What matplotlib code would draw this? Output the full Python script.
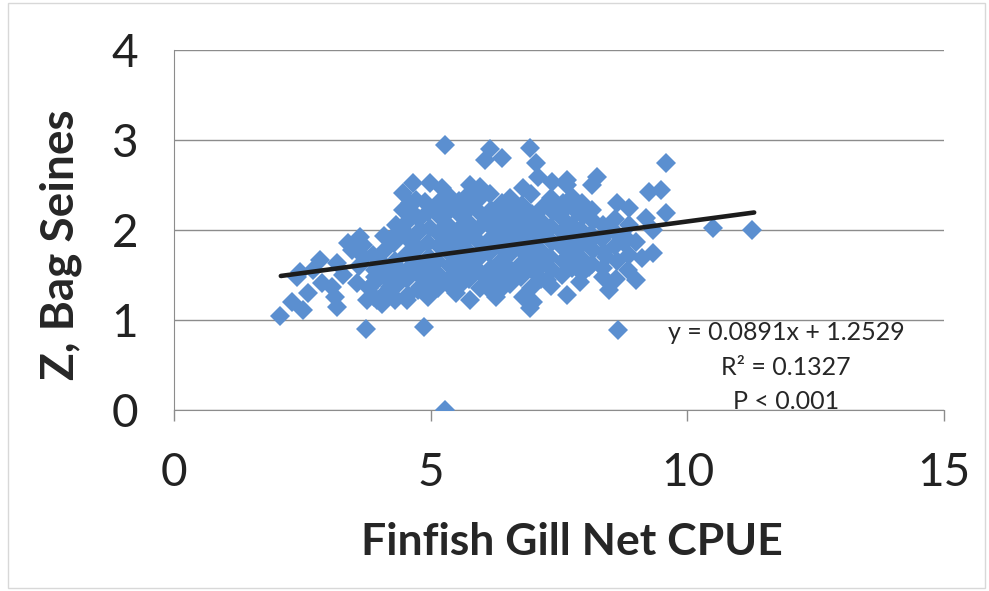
import numpy as np
import matplotlib.pyplot as plt

plt.rcParams['font.family'] = ['Lato', 'DejaVu Sans']

# outer / visible points (x = gill net CPUE, y = Z bag seines)
edge_x = [2.06, 2.30, 2.51, 2.61, 2.45, 2.39, 2.84, 2.88, 3.13, 3.17, 3.07, 3.17,
          3.39, 3.62, 3.68, 3.46, 3.73, 3.56, 3.75, 3.91, 4.00, 4.20, 3.95, 4.26,
          4.46, 4.65, 4.98, 4.72, 4.46, 4.46, 4.53, 4.86, 4.79, 4.40, 4.92, 4.79,
          4.65, 5.27, 6.15, 6.05, 6.38, 6.93, 7.06, 7.08, 5.21, 5.76, 5.95, 6.79,
          7.37, 7.65, 7.65, 4.88, 5.27, 5.50, 5.76, 6.28, 6.34, 6.93, 6.79, 7.65,
          5.31, 6.09, 7.26, 9.59, 9.26, 9.49, 9.59, 9.20, 10.50, 11.26, 8.23, 8.15,
          8.62, 8.87, 8.77, 9.00, 9.32, 9.12, 9.00, 8.64, 8.48, 8.35, 7.90, 8.09,
          8.42, 8.48, 7.76, 7.84, 7.65, 8.13, 7.90, 9.32, 7.00, 2.70, 3.30,
          3.60, 3.80, 4.05, 4.25, 3.70, 4.60]
edge_y = [1.04, 1.20, 1.11, 1.30, 1.53, 1.48, 1.67, 1.41, 1.26, 1.14, 1.37, 1.63,
          1.86, 1.92, 1.83, 1.78, 0.90, 1.41, 1.22, 1.48, 1.67, 1.37, 1.22, 1.92,
          2.41, 2.52, 2.52, 2.33, 2.22, 2.00, 1.22, 0.92, 1.37, 1.56, 1.63, 2.00,
          2.19, 2.94, 2.90, 2.78, 2.80, 2.91, 2.74, 2.59, 2.47, 2.50, 2.48, 2.47,
          2.53, 2.50, 2.26, 2.31, 0.00, 1.30, 1.22, 1.26, 1.33, 1.13, 1.26, 1.28,
          1.41, 1.37, 1.44, 2.74, 2.42, 2.44, 2.19, 2.13, 2.02, 2.00, 2.59, 2.50,
          2.30, 2.24, 1.86, 1.87, 1.74, 1.69, 1.44, 0.89, 1.33, 1.48, 1.42, 1.59,
          1.70, 2.00, 2.37, 2.20, 2.56, 1.89, 1.70, 2.00, 1.20, 1.55, 1.50,
          1.60, 1.35, 1.18, 1.28, 1.70, 2.30]

# dense core of the cloud
core_x = [3.90, 3.88, 3.92, 3.87,
          4.10, 4.12, 4.08, 4.11, 4.09,
          4.30, 4.32, 4.28, 4.31, 4.29, 4.33,
          4.55, 4.53, 4.57, 4.54, 4.56, 4.52,
          4.75, 4.77, 4.73, 4.76, 4.74, 4.78,
          4.95, 4.97, 4.93, 4.96, 4.94, 4.98, 4.95,
          5.15, 5.17, 5.13, 5.16, 5.14, 5.18, 5.15,
          5.35, 5.37, 5.33, 5.36, 5.34, 5.38, 5.35,
          5.55, 5.57, 5.53, 5.56, 5.54, 5.58, 5.55,
          5.75, 5.77, 5.73, 5.76, 5.74, 5.78, 5.75,
          5.95, 5.97, 5.93, 5.96, 5.94, 5.98, 5.95,
          6.15, 6.17, 6.13, 6.16, 6.14, 6.18, 6.15,
          6.35, 6.37, 6.33, 6.36, 6.34, 6.38,
          6.55, 6.57, 6.53, 6.56, 6.54, 6.58, 6.55,
          6.75, 6.77, 6.73, 6.76, 6.74, 6.78,
          6.95, 6.97, 6.93, 6.96, 6.94, 6.98, 6.95,
          7.15, 7.17, 7.13, 7.16, 7.14, 7.18,
          7.35, 7.37, 7.33, 7.36, 7.34, 7.38, 7.35,
          7.55, 7.57, 7.53, 7.56, 7.54, 7.58,
          7.75, 7.77, 7.73, 7.76,
          7.95, 7.97, 7.93, 7.96, 7.94,
          8.15, 8.17, 8.13, 8.16, 8.14,
          8.35, 8.37, 8.33, 8.36,
          8.60, 8.62, 8.58, 8.61, 8.59,
          8.85, 8.87, 8.83, 8.86]
core_y = [1.25, 1.40, 1.55, 1.72,
          1.30, 1.47, 1.60, 1.78, 1.93,
          1.22, 1.38, 1.52, 1.66, 1.85, 2.05,
          1.28, 1.45, 1.58, 1.73, 1.90, 2.08,
          1.33, 1.50, 1.64, 1.80, 1.95, 2.12,
          1.25, 1.42, 1.57, 1.70, 1.86, 2.02, 2.20,
          1.35, 1.50, 1.66, 1.82, 1.97, 2.14, 2.30,
          1.45, 1.60, 1.75, 1.90, 2.05, 2.22, 2.38,
          1.38, 1.53, 1.68, 1.84, 2.00, 2.16, 2.32,
          1.45, 1.60, 1.77, 1.93, 2.08, 2.25, 2.40,
          1.35, 1.52, 1.68, 1.85, 2.02, 2.18, 2.35,
          1.42, 1.58, 1.74, 1.90, 2.06, 2.22, 2.40,
          1.50, 1.65, 1.82, 1.98, 2.14, 2.30,
          1.40, 1.56, 1.72, 1.88, 2.04, 2.20, 2.36,
          1.48, 1.63, 1.79, 1.95, 2.12, 2.28,
          1.35, 1.55, 1.70, 1.86, 2.02, 2.18, 2.40,
          1.45, 1.62, 1.78, 1.94, 2.10, 2.26,
          1.38, 1.55, 1.70, 1.87, 2.03, 2.20, 2.36,
          1.50, 1.66, 1.82, 1.98, 2.14, 2.30,
          1.58, 1.75, 1.92, 2.06,
          1.52, 1.85, 2.00, 2.15, 2.30,
          1.62, 1.78, 1.95, 2.10, 2.22,
          1.58, 1.75, 1.90, 2.05,
          1.45, 1.65, 1.82, 1.97, 2.12,
          1.55, 1.72, 1.90, 2.05]

# trend line as drawn in the chart
trend_x = [2.08, 11.3]
trend_slope = 0.0765
trend_icept = 1.33

eq_lines = ['y = 0.0891x + 1.2529', 'R² = 0.1327', 'P < 0.001']

xs = edge_x + core_x
ys = edge_y + core_y

fig = plt.figure(figsize=(9.89, 5.91), dpi=100)
ax = fig.add_axes([0.176, 0.3063, 0.7786, 0.6091])

ax.plot(xs, ys, linestyle='none', marker='D', markersize=10.5,
        color='#5b8fd0', markeredgewidth=0, zorder=3)

tx = np.array(trend_x)
ax.plot(tx, trend_slope * tx + trend_icept, color='#1c1c1c', lw=3.3,
        solid_capstyle='round', zorder=4)

ax.set_xlim(0, 15)
ax.set_ylim(0, 4)
ax.set_xticks([0, 5, 10, 15])
ax.set_yticks([0, 1, 2, 3, 4])
ax.yaxis.grid(True, color='#8c8c8c', lw=1)
ax.set_axisbelow(True)

for s in ('top', 'right'):
    ax.spines[s].set_visible(False)
ax.spines['left'].set_color('#8c8c8c')
ax.spines['bottom'].set_color('#8c8c8c')

ax.tick_params(axis='x', length=8, width=1, color='#8c8c8c',
               labelsize=33, pad=22, labelcolor='#222222')
ax.tick_params(axis='y', length=0, labelsize=33, pad=26, labelcolor='#222222')

ax.set_xlabel('Finfish Gill Net CPUE', fontsize=32, fontweight='bold',
              color='#262626')
ax.xaxis.set_label_coords(0.516, -0.31)
ax.set_ylabel('Z, Bag Seines', fontsize=33, fontweight='bold',
              color='#262626')
ax.yaxis.set_label_coords(-0.12, 0.46)

ax.text(0.795, 0.119, '\n'.join(eq_lines), transform=ax.transAxes,
        ha='center', va='center', fontsize=18, color='#262626',
        linespacing=1.6, multialignment='center')

fig.patches.append(plt.Rectangle((0.008, 0.005), 0.988, 0.99,
                                 transform=fig.transFigure, fill=False,
                                 edgecolor='#d8d8d8', lw=1))

fig.savefig('out.png', dpi=100)
